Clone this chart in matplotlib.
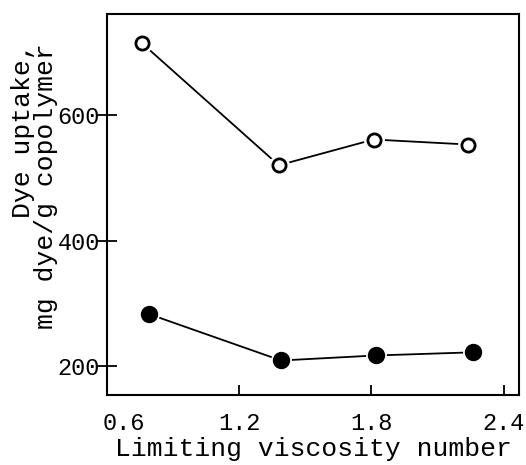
import numpy as np
import matplotlib.pyplot as plt
import matplotlib.transforms as mtransforms

plt.rcParams['font.family'] = ['Liberation Mono', 'DejaVu Sans Mono']

# Datos
visc_abierto = [0.76, 1.38, 1.81, 2.24]
capt_abierto = [714, 520, 561, 553]
visc_lleno = [0.79, 1.39, 1.82, 2.26]
capt_lleno = [283, 209, 217, 222]

xticks = [0.6, 1.2, 1.8, 2.4]
yticks = [200, 400, 600]

fig = plt.figure(figsize=(5.26, 4.65), dpi=100)
ax = fig.add_axes([0.2034, 0.1505, 0.7833, 0.8195])

# linea con hueco alrededor de los marcadores
for xs, ys, fc in [(visc_abierto, capt_abierto, 'white'), (visc_lleno, capt_lleno, 'black')]:
    ax.plot(xs, ys, '-', color='black', lw=1.3, zorder=2)
    ax.plot(xs, ys, 'o', ms=14, mfc='white', mec='white', zorder=3)
    ax.plot(xs, ys, 'o', ms=9.5 if fc == 'white' else 10.5, mfc=fc, mec='black',
            mew=2.0, zorder=4)

ax.set_xlim(0.6, 2.47)
ax.set_ylim(154, 761)
ax.set_xticks(xticks)
ax.set_xticklabels(['0.6', '1.2', '1.8', '2.4'])
ax.set_yticks(yticks)

for s in ax.spines.values():
    s.set_linewidth(1.5)

ax.tick_params(axis='x', direction='in', length=7, width=1.3, labelsize=17, pad=12)
ax.tick_params(axis='y', direction='inout', length=14, width=1.3, labelsize=17, pad=-2)
ax.xaxis.get_major_ticks()[0].tick1line.set_visible(False)

# desplazar la etiqueta 0.6 hacia la derecha
lbl = ax.get_xticklabels()[0]
lbl.set_transform(lbl.get_transform() + mtransforms.ScaledTranslation(17 / 100, 0, fig.dpi_scale_trans))

ax.set_xlabel('Limiting viscosity number', fontsize=19, labelpad=2)
ax.set_ylabel('Dye uptake,\nmg dye/g copolymer', fontsize=19, multialignment='right',
              linespacing=0.9)
ax.yaxis.set_label_coords(-0.12, 0.547)

fig.savefig('out.png', dpi=100)
